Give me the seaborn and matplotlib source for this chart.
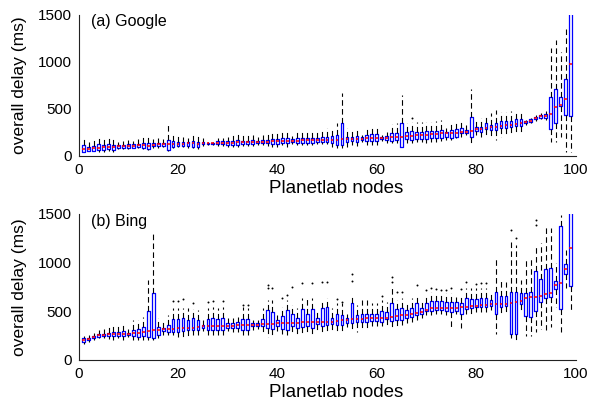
import matplotlib
matplotlib.use("Agg")
import matplotlib.pyplot as plt
import numpy as np
import pandas as pd
import seaborn as sns

sns.set_style("white")
plt.rcParams["font.family"] = ["Liberation Sans", "DejaVu Sans"]
plt.rcParams["text.color"] = "black"
plt.rcParams["axes.labelcolor"] = "black"
plt.rcParams["xtick.color"] = "black"
plt.rcParams["ytick.color"] = "black"

nodes = list(range(1, 100))

# ---- (a) Google ----
g_med = [71, 74, 82, 88, 92, 99, 92, 103, 106, 110, 110, 113, 117, 110, 120, 124, 124, 124, 131, 131,
         131, 135, 135, 131, 138, 135, 135, 142, 142, 142, 142, 145, 145, 145, 149, 149, 152, 152, 156, 156,
         160, 160, 160, 163, 167, 167, 170, 170, 174, 174, 170, 170, 177, 177, 181, 184, 184, 192, 188, 192,
         192, 192, 199, 206, 199, 213, 213, 220, 223, 227, 231, 234, 241, 241, 248, 248, 259, 259, 269, 287,
         292, 298, 309, 312, 322, 326, 333, 340, 347, 362, 376, 404, 422, 429, 447, 525, 539, 603, 976]
g_q1 = [46, 53, 57, 64, 64, 74, 64, 85, 88, 88, 88, 92, 88, 78, 102, 102, 106, 64, 99, 106,
        106, 106, 99, 99, 124, 128, 131, 124, 124, 117, 117, 117, 124, 124, 128, 135, 135, 135, 128, 131,
        135, 135, 145, 135, 135, 135, 135, 145, 145, 145, 135, 117, 117, 152, 163, 152, 170, 160, 160, 160,
        177, 170, 163, 170, 99, 177, 170, 177, 184, 184, 192, 192, 192, 206, 192, 206, 241, 241, 206, 269,
        252, 284, 277, 277, 301, 301, 312, 319, 319, 348, 362, 390, 408, 404, 284, 354, 532, 433, 426]
g_q3 = [117, 99, 106, 124, 117, 124, 117, 117, 120, 128, 128, 128, 142, 135, 135, 142, 142, 170, 160, 152,
        152, 152, 160, 152, 152, 142, 142, 160, 160, 160, 160, 170, 163, 163, 170, 163, 170, 170, 181, 181,
        188, 188, 177, 188, 195, 195, 195, 195, 199, 199, 213, 223, 348, 206, 206, 213, 199, 223, 234, 231,
        206, 213, 241, 248, 348, 252, 266, 259, 259, 266, 266, 270, 277, 259, 277, 284, 294, 277, 411, 305,
        312, 348, 330, 348, 372, 372, 372, 394, 394, 376, 390, 418, 436, 443, 631, 709, 631, 816, 1600]
g_lo = [39, 50, 50, 39, 39, 53, 39, 74, 78, 74, 82, 82, 74, 64, 85, 85, 92, 53, 85, 92,
        92, 85, 85, 78, 110, 117, 120, 110, 110, 99, 99, 99, 110, 110, 110, 117, 117, 110, 99, 99,
        117, 99, 124, 117, 117, 117, 117, 124, 124, 124, 99, 82, 82, 99, 117, 106, 152, 117, 117, 117,
        163, 135, 135, 135, 99, 142, 135, 152, 152, 142, 152, 152, 160, 170, 170, 190, 206, 223, 135, 223,
        206, 223, 213, 170, 206, 213, 223, 252, 259, 330, 348, 376, 390, 383, 152, 152, 205, 46, 46]
g_hi = [195, 152, 188, 206, 206, 195, 195, 152, 163, 170, 163, 181, 199, 202, 181, 188, 181, 330, 234, 216,
        206, 195, 231, 216, 195, 152, 152, 195, 195, 206, 223, 252, 231, 231, 223, 199, 223, 231, 252, 259,
        259, 259, 216, 259, 266, 277, 266, 266, 277, 294, 294, 348, 674, 294, 277, 284, 223, 294, 312, 305,
        223, 259, 340, 348, 649, 348, 365, 365, 365, 365, 365, 372, 383, 294, 365, 365, 383, 330, 709, 383,
        400, 418, 454, 489, 472, 472, 482, 482, 482, 383, 401, 436, 461, 479, 1146, 1234, 1110, 1376, 1700]
g_fl_node = [67]
g_fl_val = [401]

# ---- (b) Bing ----
b_med = [202, 216, 233, 251, 257, 264, 267, 271, 271, 271, 278, 281, 288, 298, 305, 305, 315, 318, 322, 326,
         329, 332, 332, 339, 346, 346, 346, 346, 346, 353, 353, 360, 363, 363, 363, 363, 367, 370, 370, 374,
         374, 374, 377, 380, 384, 387, 387, 391, 391, 394, 394, 401, 408, 408, 415, 418, 421, 425, 425, 428,
         432, 435, 442, 449, 456, 462, 469, 483, 490, 517, 528, 528, 528, 531, 531, 535, 538, 545, 552, 552,
         559, 566, 569, 572, 572, 572, 579, 596, 603, 630, 640, 640, 654, 671, 681, 767, 791, 928, 1143]
b_q1 = [185, 202, 220, 236, 243, 243, 243, 247, 243, 260, 243, 236, 247, 236, 230, 254, 294, 288, 288, 288,
        294, 305, 305, 305, 329, 305, 312, 312, 312, 332, 332, 332, 312, 312, 346, 346, 346, 329, 322, 346,
        322, 305, 346, 332, 339, 346, 332, 367, 346, 356, 367, 356, 363, 380, 374, 384, 384, 390, 401, 401,
        390, 415, 397, 408, 408, 435, 442, 459, 466, 504, 504, 511, 511, 504, 487, 504, 476, 518, 528, 538,
        538, 545, 552, 466, 545, 552, 271, 271, 569, 452, 442, 504, 589, 630, 640, 722, 518, 876, 757]
b_q3 = [220, 230, 247, 264, 271, 281, 288, 288, 294, 281, 312, 322, 339, 500, 682, 339, 329, 363, 418, 418,
        431, 408, 425, 408, 363, 418, 431, 418, 431, 374, 374, 391, 418, 418, 374, 380, 418, 510, 493, 408,
        452, 510, 469, 425, 521, 469, 518, 431, 528, 538, 425, 466, 459, 435, 579, 459, 466, 476, 476, 476,
        500, 487, 586, 521, 528, 511, 528, 579, 534, 579, 603, 603, 603, 589, 589, 589, 579, 630, 623, 623,
        637, 637, 613, 692, 658, 654, 692, 692, 681, 681, 692, 914, 829, 931, 938, 811, 1373, 979, 1600]
b_lo = [168, 185, 202, 220, 220, 212, 209, 220, 209, 236, 209, 202, 202, 202, 202, 220, 254, 254, 254, 236,
        220, 236, 254, 254, 294, 254, 254, 254, 254, 294, 288, 288, 254, 254, 305, 322, 288, 236, 254, 298,
        271, 254, 271, 271, 254, 271, 254, 305, 271, 288, 288, 288, 288, 339, 322, 288, 305, 322, 346, 346,
        346, 356, 322, 339, 356, 380, 390, 408, 425, 459, 459, 476, 469, 459, 339, 476, 329, 476, 476, 493,
        493, 493, 511, 271, 483, 493, 220, 209, 511, 247, 244, 288, 322, 305, 339, 545, 288, 733, 511]
b_hi = [243, 260, 278, 305, 322, 339, 356, 356, 356, 322, 408, 408, 442, 818, 1315, 425, 391, 459, 528, 528,
        528, 528, 518, 510, 408, 528, 538, 528, 544, 425, 425, 442, 538, 528, 408, 408, 528, 613, 613, 459,
        544, 613, 562, 528, 631, 631, 631, 510, 613, 631, 528, 579, 579, 476, 647, 562, 613, 613, 579, 579,
        613, 596, 733, 613, 630, 596, 630, 664, 613, 664, 698, 664, 681, 681, 681, 647, 664, 733, 740, 733,
        733, 740, 681, 1041, 818, 801, 1229, 1178, 818, 1024, 1058, 1178, 1195, 1366, 1349, 990, 1486, 1126, 1700]
b_fl_node = [19, 20, 21, 23, 26, 27, 29, 33, 34, 38, 38, 39, 41, 42, 43, 45, 47, 49, 50, 52,
             53, 55, 55, 61, 63, 63, 64, 65, 68, 70, 71, 72, 73, 74, 75, 77, 78, 80, 81, 82,
             87, 88, 92, 92]
b_fl_val = [603, 603, 623, 579, 596, 603, 603, 562, 562, 733, 767, 733, 631, 664, 750, 785, 785, 801, 801, 620,
            596, 810, 880, 654, 801, 853, 698, 698, 767, 716, 740, 726, 716, 716, 733, 726, 794, 777, 784, 791,
            1329, 1246, 1380, 1430]

x_ticks = [0, 20, 40, 60, 80, 100]
y_ticks = [0, 500, 1000, 1500]


def five_point_frame(lo, q1, med, q3, hi):
    rows = []
    for n, a, b, c, d, e in zip(nodes, lo, q1, med, q3, hi):
        for v in (a, b, c, d, e):
            rows.append((n, v))
    return pd.DataFrame(rows, columns=["node", "delay"])


fig = plt.figure(figsize=(6.0, 4.04), dpi=100)
ax1 = fig.add_axes([0.1312, 0.6139, 0.828, 0.349])
ax2 = fig.add_axes([0.1312, 0.109, 0.828, 0.3624])

panels = [
    (ax1, (g_lo, g_q1, g_med, g_q3, g_hi), g_fl_node, g_fl_val, "(a) Google", 0.957, -0.234),
    (ax2, (b_lo, b_q1, b_med, b_q3, b_hi), b_fl_node, b_fl_val, "(b) Bing", 0.946, -0.225),
]

for ax, stats, fn, fv, title, ty, ly in panels:
    df = five_point_frame(*stats)
    sns.boxplot(data=df, x="node", y="delay", native_scale=True, whis=(0, 100),
                width=0.55, showfliers=False, fill=False, color="#0000ff",
                linewidth=0.9, ax=ax,
                boxprops=dict(color="#0000ff", linewidth=0.9),
                medianprops=dict(color="#ff0000", linewidth=1.1),
                whiskerprops=dict(color="black", linewidth=0.8, linestyle=(0, (5, 3))),
                capprops=dict(linewidth=0))
    sns.scatterplot(x=fn, y=fv, ax=ax, color="black", marker=".", s=8, linewidth=0)
    ax.set_xlim(0, 100)
    ax.set_ylim(0, 1500)
    ax.set_xticks(x_ticks)
    ax.set_xticklabels([str(t) for t in x_ticks])
    ax.set_yticks(y_ticks)
    ax.set_yticklabels([str(t) for t in y_ticks])
    ax.set_xlabel("Planetlab nodes", fontsize=13.5)
    ax.xaxis.set_label_coords(0.518, ly)
    ax.xaxis.label.set_va("center")
    ax.set_ylabel("overall delay (ms)", fontsize=12.5, labelpad=8)
    ax.tick_params(direction="in", length=4, width=0.8, labelsize=11, pad=5, colors="black")
    for s in ("top", "right"):
        ax.spines[s].set_visible(False)
    for s in ("left", "bottom"):
        ax.spines[s].set_color("#222222")
        ax.spines[s].set_linewidth(0.8)
    ax.text(0.024, ty, title, transform=ax.transAxes, fontsize=11.5, va="center", ha="left")

fig.savefig("out.png", dpi=100)
